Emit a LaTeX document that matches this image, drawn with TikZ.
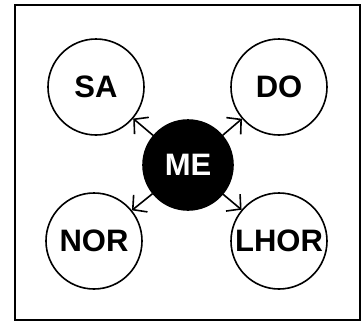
\documentclass[tikz,border=0pt]{standalone}
\usepackage{fontspec}
\setmainfont{Liberation Sans}
\usetikzlibrary{arrows.meta}
\tikzset{
  role/.style={circle, draw, line width=1.6pt, minimum size=96pt, inner sep=0pt,
    font=\fontsize{31}{31}\selectfont\bfseries},
  self/.style={role, fill=black, text=white, minimum size=90pt},
  arr/.style={line width=1.6pt, -{Straight Barb[length=10pt, width=22pt, line width=1.6pt]}}
}
\begin{document}
\begin{tikzpicture}[x=1pt, y=-1pt]
    \useasboundingbox (0,0) rectangle (362,322);
    \draw [line width=2.5pt] (15,5) rectangle (360,320);
    \node [self] (me) at (188,165) {ME};
    \node [role] (sa) at (96,87) {SA};
    \node [role] (do) at (279,87) {DO};
    \node [role] (nor) at (94,241) {NOR};
    \node [role] (lhor) at (279,241) {LHOR};
    \draw [arr] (me) -- (sa);
    \draw [arr] (me) -- (do);
    \draw [arr] (me) -- (nor);
    \draw [arr] (me) -- (lhor);
  \end{tikzpicture}
\end{document}
